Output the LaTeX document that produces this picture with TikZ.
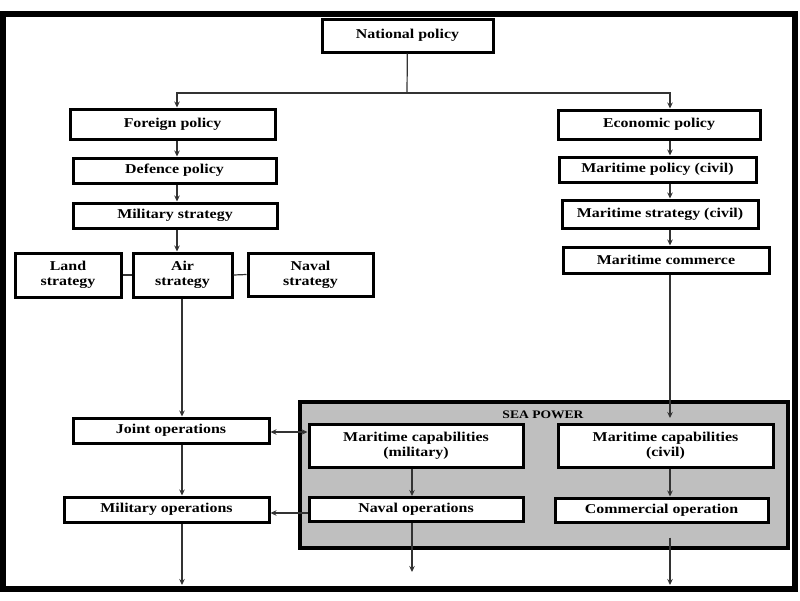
\documentclass[tikz,border=0pt]{standalone}
\usepackage{fontspec}
\setmainfont{Liberation Serif}[FakeStretch=1.18]
\usetikzlibrary{arrows.meta}
\begin{document}
\begin{tikzpicture}[x=1pt,y=-1pt,
  box/.style={draw=black, line width=3pt, fill=white, inner sep=0pt, align=center,
    font=\fontsize{13.5}{15}\selectfont\bfseries},
  conn/.style={line width=1.2pt, draw=black!80},
  arr/.style={conn, -{Stealth[length=6pt,width=5.5pt]}},
  darr/.style={conn, {Stealth[length=6pt,width=5.5pt]}-{Stealth[length=6pt,width=5.5pt]}}]
\fill[white] (0,0) rectangle (800,600);
\useasboundingbox (0,0) rectangle (800,600);
\draw[line width=6pt] (2.5,13.5) rectangle (795,589);
% columns
\coordinate (colL) at (177,0);
\coordinate (colR) at (670,0);
\coordinate (colA) at (182,0);
\coordinate (colM) at (412,0);
\coordinate (split) at (407,93);
% sea power group
\node[draw=black, line width=4pt, fill=black!25, minimum width=488pt, minimum height=146pt] (sea) at (544,475) {};
\node[font=\fontsize{11.5}{13}\selectfont\bfseries, inner sep=0pt] (sealbl) at (543,415) {SEA POWER};
% nodes
\node[box, minimum width=171pt, minimum height=33pt] (national) at (407.5,35.5) {National policy};
\node[box, minimum width=205pt, minimum height=30pt] (foreign) at (172.5,124) {Foreign policy};
\node[box, minimum width=202pt, minimum height=29pt] (econ) at (659,124.5) {Economic policy};
\node[box, minimum width=203pt, minimum height=25pt] (defence) at (174.5,170.5) {Defence policy};
\node[box, minimum width=197pt, minimum height=25pt] (mpol) at (657.5,169.5) {Maritime policy (civil)};
\node[box, minimum width=204pt, minimum height=25pt] (milstr) at (175,215.5) {Military strategy};
\node[box, minimum width=196pt, minimum height=28pt] (mstr) at (660,214) {Maritime strategy (civil)};
\node[box, minimum width=206pt, minimum height=26pt] (mcom) at (666,260) {Maritime commerce};
\node[box, minimum width=106pt, minimum height=44pt] (land) at (68,275) {Land\\strategy};
\node[box, minimum width=99pt, minimum height=44pt] (air) at (182.5,275) {Air\\strategy};
\node[box, minimum width=125pt, minimum height=43pt] (naval) at (310.5,274.5) {Naval\\strategy};
\node[box, minimum width=196pt, minimum height=25pt] (joint) at (171,430.5) {Joint operations};
\node[box, minimum width=205pt, minimum height=25pt] (milops) at (166.5,509.5) {Military operations};
\node[box, minimum width=214pt, minimum height=43pt] (mcmil) at (416,445.5) {Maritime capabilities\\(military)};
\node[box, minimum width=215pt, minimum height=43pt] (mcciv) at (665.5,445.5) {Maritime capabilities\\(civil)};
\node[box, minimum width=214pt, minimum height=24pt] (navops) at (416,509.5) {Naval operations};
\node[box, minimum width=213pt, minimum height=24pt] (comm) at (661.5,510) {Commercial operation};
% free ends
\coordinate (endL) at (182,585);
\coordinate (endM) at (412,572);
\coordinate (endR) at (670,585);
\coordinate (mcTop) at (670,418);
% connectors
\draw[conn] (national) -- (split);
\draw[arr] (split) -| (foreign.north -| colL);
\draw[arr] (split) -| (econ.north -| colR);
\draw[arr] (foreign.south -| colL) -- (defence.north -| colL);
\draw[arr] (defence.south -| colL) -- (milstr.north -| colL);
\draw[arr] (milstr.south -| colL) -- (air.north -| colL);
\draw[conn] (land.east) -- (air.west);
\draw[conn] (air.east) -- (naval.west);
\draw[arr] (air.south -| colA) -- (joint.north -| colA);
\draw[arr] (joint.south -| colA) -- (milops.north -| colA);
\draw[arr] (milops.south -| colA) -- (endL);
\draw[arr] (econ.south -| colR) -- (mpol.north -| colR);
\draw[arr] (mpol.south -| colR) -- (mstr.north -| colR);
\draw[arr] (mstr.south -| colR) -- (mcom.north -| colR);
\draw[arr] (mcom.south -| colR) -- (mcTop);
\draw[arr] (mcciv.south -| colR) -- (comm.north -| colR);
\draw[arr, shorten <=14pt] (comm.south -| colR) -- (endR);
\draw[arr] (mcmil.south -| colM) -- (navops.north -| colM);
\draw[arr] (navops.south -| colM) -- (endM);
\draw[darr] (joint.east |- 0,432) -- (mcmil.west |- 0,432);
\draw[arr] (navops.west |- 0,513) -- (milops.east |- 0,513);
\end{tikzpicture}
\end{document}
